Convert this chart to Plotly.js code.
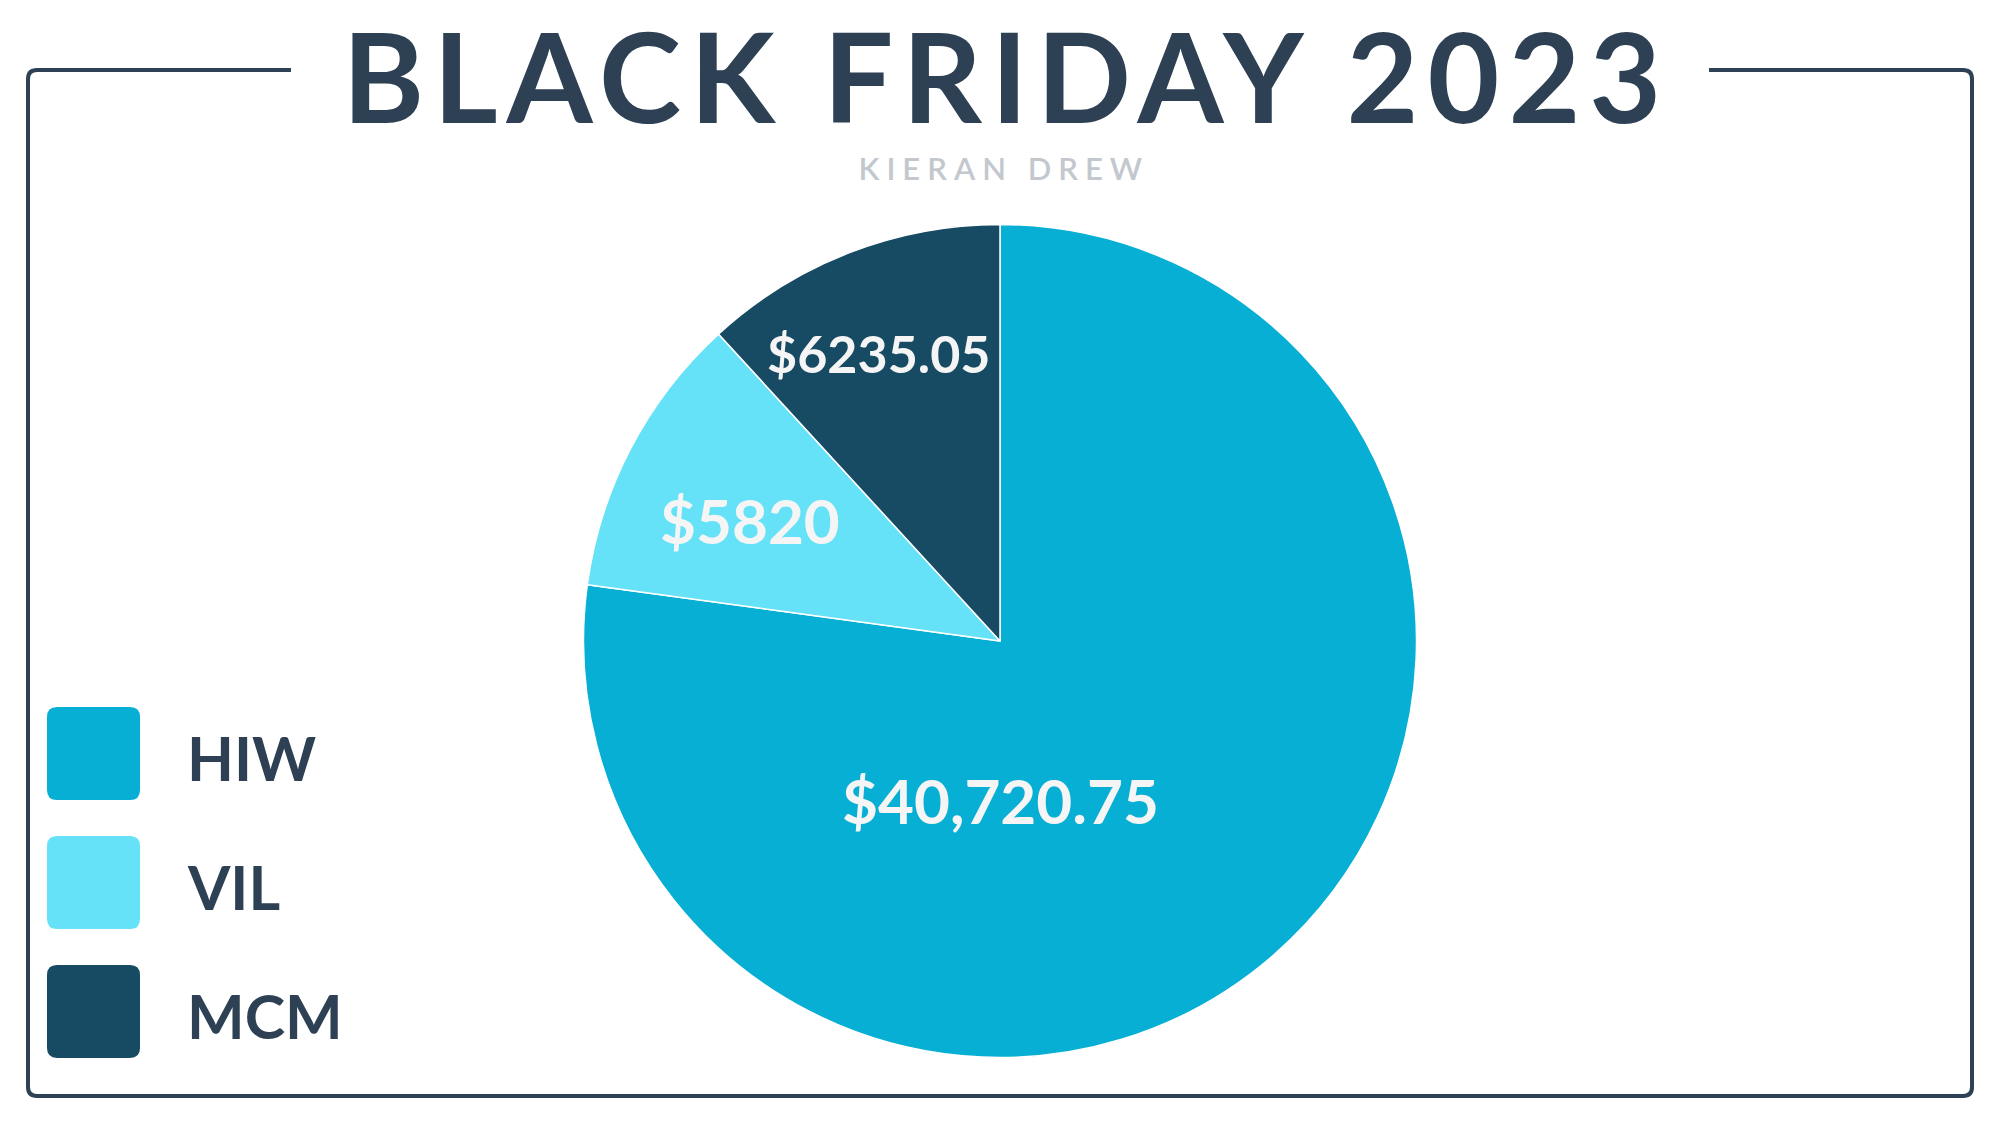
<!DOCTYPE html>
<html>
<head>
<meta charset="utf-8">
<script src="https://cdn.plot.ly/plotly-3.0.1.min.js"></script>
<style>
html,body{margin:0;padding:0;background:#ffffff;}
#chart{width:2000px;height:1125px;}
</style>
</head>
<body>
<div id="chart"></div>
<script>
// ---- data ----
const categories = ["HIW", "VIL", "MCM"];
const sales = [40720.75, 5820, 6235.05];
const valueLabels = ["$40,720.75", "$5820", "$6235.05"];
const sliceColors = ["#07AFD4", "#66E2F8", "#174A63"];
const chartTitle = "BLACK FRIDAY 2023";
const chartSubtitle = "KIERAN DREW";

// ---- layout helpers (pixel -> paper) ----
const W = 2000, H = 1125;
const px = x => x / W;
const py = y => 1 - y / H;
const pt = (x, y) => px(x).toFixed(5) + "," + py(y).toFixed(5);

function roundRect(x0, y0, x1, y1, r) {
  return "M" + pt(x0 + r, y0) +
    " L" + pt(x1 - r, y0) + " Q" + pt(x1, y0) + " " + pt(x1, y0 + r) +
    " L" + pt(x1, y1 - r) + " Q" + pt(x1, y1) + " " + pt(x1 - r, y1) +
    " L" + pt(x0 + r, y1) + " Q" + pt(x0, y1) + " " + pt(x0, y1 - r) +
    " L" + pt(x0, y0 + r) + " Q" + pt(x0, y0) + " " + pt(x0 + r, y0) + " Z";
}

const ink = "#2E4053";
const fontFam = "Lato, 'Open Sans', sans-serif";

// frame with a gap for the title
const fr = {l: 28, t: 70, r: 1972, b: 1096, rad: 9, gapL: 291, gapR: 1709};
const framePath = "M" + pt(fr.gapL, fr.t) +
  " L" + pt(fr.l + fr.rad, fr.t) + " Q" + pt(fr.l, fr.t) + " " + pt(fr.l, fr.t + fr.rad) +
  " L" + pt(fr.l, fr.b - fr.rad) + " Q" + pt(fr.l, fr.b) + " " + pt(fr.l + fr.rad, fr.b) +
  " L" + pt(fr.r - fr.rad, fr.b) + " Q" + pt(fr.r, fr.b) + " " + pt(fr.r, fr.b - fr.rad) +
  " L" + pt(fr.r, fr.t + fr.rad) + " Q" + pt(fr.r, fr.t) + " " + pt(fr.r - fr.rad, fr.t) +
  " L" + pt(fr.gapR, fr.t);

const shapes = [{
  type: "path", xref: "paper", yref: "paper", path: framePath,
  line: {color: ink, width: 4}, fillcolor: "rgba(0,0,0,0)", layer: "below"
}];

const annotations = [];
// title + subtitle
annotations.push({xref: "paper", yref: "paper", x: px(1007), y: py(75), xanchor: "center", yanchor: "middle",
  text: "<b>" + chartTitle + "</b>", showarrow: false,
  font: {family: fontFam, size: 124, color: ink, weight: 900}});
annotations.push({xref: "paper", yref: "paper", x: px(1004), y: py(168), xanchor: "center", yanchor: "middle",
  text: chartSubtitle, showarrow: false,
  font: {family: fontFam, size: 31, color: "#C3C8CE", weight: 600}});

// legend (rounded squares + labels)
const legTop = [707, 836, 965];
const legLabelY = [757, 886, 1015];
categories.forEach((c, i) => {
  shapes.push({type: "path", xref: "paper", yref: "paper",
    path: roundRect(47, legTop[i], 140, legTop[i] + 93, 10),
    fillcolor: sliceColors[i], line: {width: 0}});
  annotations.push({xref: "paper", yref: "paper", x: px(185), y: py(legLabelY[i]),
    xanchor: "left", yanchor: "middle", text: "<b>" + c + "</b>", showarrow: false,
    font: {family: fontFam, size: 61, color: ink, weight: 900}});
});

// slice value labels
const labelPos = [[1000, 800], [750, 520], [878, 353]];
const labelSize = [62, 62, 52];
valueLabels.forEach((t, i) => {
  annotations.push({xref: "paper", yref: "paper", x: px(labelPos[i][0]), y: py(labelPos[i][1]),
    xanchor: "center", yanchor: "middle", text: "<b>" + t + "</b>", showarrow: false,
    font: {family: fontFam, size: labelSize[i], color: "#F5F5F5", weight: 900}});
});

const cx = 1000, cy = 641, rad = 416.5;
const trace = {
  type: "pie",
  labels: categories,
  values: sales,
  sort: false,
  direction: "clockwise",
  rotation: 0,
  textinfo: "none",
  hoverinfo: "label+value",
  marker: {colors: sliceColors, line: {color: "#ffffff", width: 1.5}},
  domain: {x: [px(cx - rad), px(cx + rad)], y: [py(cy + rad), py(cy - rad)]},
  showlegend: false
};

const layout = {
  width: W, height: H,
  margin: {l: 0, r: 0, t: 0, b: 0},
  paper_bgcolor: "#ffffff",
  showlegend: false,
  shapes: shapes,
  annotations: annotations
};

Plotly.newPlot("chart", [trace], layout, {displayModeBar: false, staticPlot: true}).then(() => {
  const texts = document.querySelectorAll(".annotation-text");
  texts.forEach(t => {
    if (t.textContent === chartTitle) t.style.letterSpacing = "9px";
    if (t.textContent === chartSubtitle) t.style.letterSpacing = "7px";
  });
});
</script>
</body>
</html>
